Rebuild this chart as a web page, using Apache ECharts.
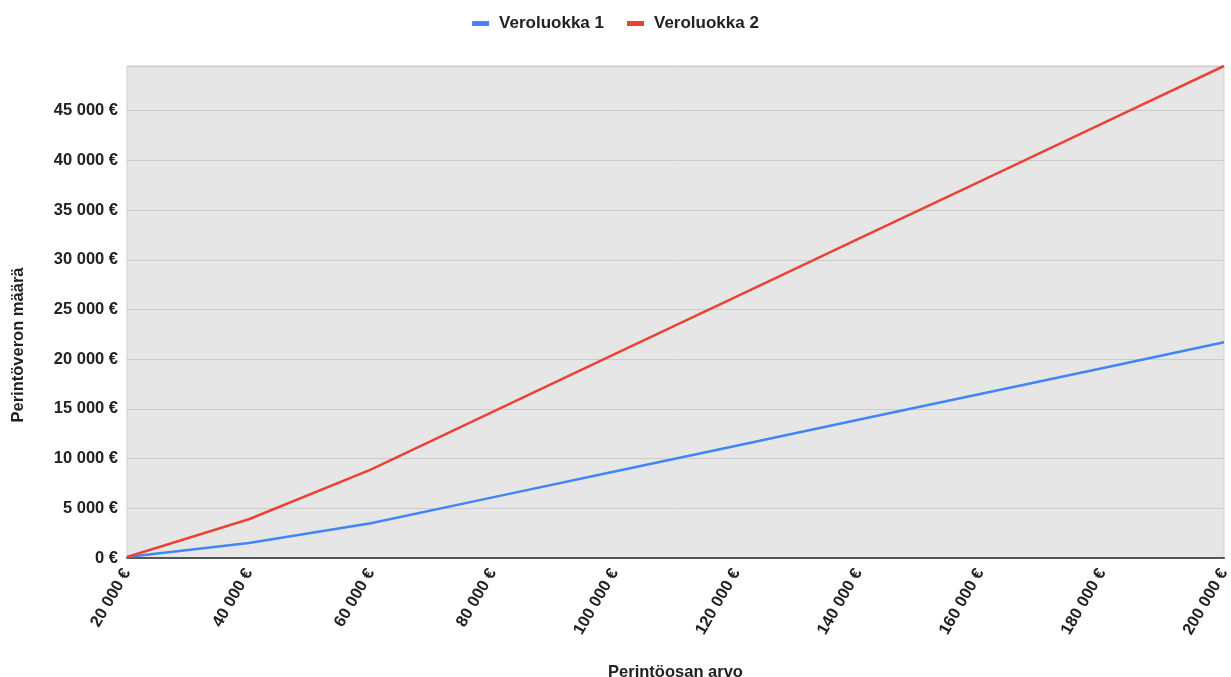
<!DOCTYPE html>
<html>
<head>
<meta charset="utf-8">
<script src="https://cdn.jsdelivr.net/npm/echarts@6/dist/echarts.min.js"></script>
<style>html,body{margin:0;padding:0;background:#fff;overflow:hidden}#c{width:1231px;height:677px}</style>
</head>
<body>
<div id="c"></div>
<script>
const inheritance = [20000, 40000, 60000, 80000, 100000, 120000, 140000, 160000, 180000, 200000];
const class1 = [100, 1500, 3500, 6100, 8700, 11300, 13900, 16500, 19100, 21700];
const class2 = [100, 3900, 8900, 14700, 20500, 26300, 32100, 37900, 43700, 49500];
const seriesNames = ['Veroluokka 1', 'Veroluokka 2'];
const xTitle = 'Perintöosan arvo';
const yTitle = 'Perintöveron määrä';

function eur(v) {
  return String(Math.round(v)).replace(/\B(?=(\d{3})+(?!\d))/g, ' ') + ' €';
}
const font = 'Liberation Sans, Arial, sans-serif';
const fs = 16.5;
const chart = echarts.init(document.getElementById('c'));
chart.setOption({
  animation: false,
  textStyle: { fontFamily: font },
  legend: {
    top: 10, left: 'center',
    icon: 'rect', itemWidth: 17, itemHeight: 5, itemGap: 23,
    textStyle: { fontFamily: font, fontSize: 17, fontWeight: 'bold', color: '#222', padding: [0, 0, 0, 5] },
    data: seriesNames
  },
  grid: {
    left: 127, right: 7, top: 66, bottom: 119,
    containLabel: false, outerBoundsMode: 'none',
    show: true, backgroundColor: '#e6e6e6', borderColor: '#d0d0d0', borderWidth: 1
  },
  xAxis: {
    type: 'value', min: 20000, max: 200000, interval: 20000,
    name: xTitle, nameLocation: 'middle', nameGap: 106,
    nameTextStyle: { fontFamily: font, fontSize: fs, fontWeight: 'bold', color: '#222' },
    axisLine: { lineStyle: { color: '#555', width: 2 } },
    axisTick: { show: false },
    splitLine: { show: false },
    axisLabel: { rotate: 60, margin: 12, formatter: eur, fontFamily: font, fontSize: fs, fontWeight: 'bold', color: '#222' }
  },
  yAxis: {
    type: 'value', min: 0, max: 49500, interval: 5000,
    axisLine: { show: false }, axisTick: { show: false },
    splitLine: { lineStyle: { color: '#cccccc', width: 1 } },
    axisLabel: { showMaxLabel: false, margin: 9, formatter: eur, fontFamily: font, fontSize: fs, fontWeight: 'bold', color: '#222' }
  },
  graphic: [{
    type: 'text',
    rotation: Math.PI / 2,
    x: 18, y: 345,
    style: { text: yTitle, font: 'bold ' + fs + 'px ' + font, fill: '#222', align: 'center', verticalAlign: 'middle', textAlign: 'center', textVerticalAlign: 'middle' }
  }],
  series: [
    { name: seriesNames[0], type: 'line', data: inheritance.map((x, i) => [x, class1[i]]),
      showSymbol: false, lineStyle: { color: '#4285f4', width: 2.5 }, itemStyle: { color: '#4285f4' } },
    { name: seriesNames[1], type: 'line', data: inheritance.map((x, i) => [x, class2[i]]),
      showSymbol: false, lineStyle: { color: '#ea4335', width: 2.5 }, itemStyle: { color: '#ea4335' } }
  ]
});
</script>
</body>
</html>
